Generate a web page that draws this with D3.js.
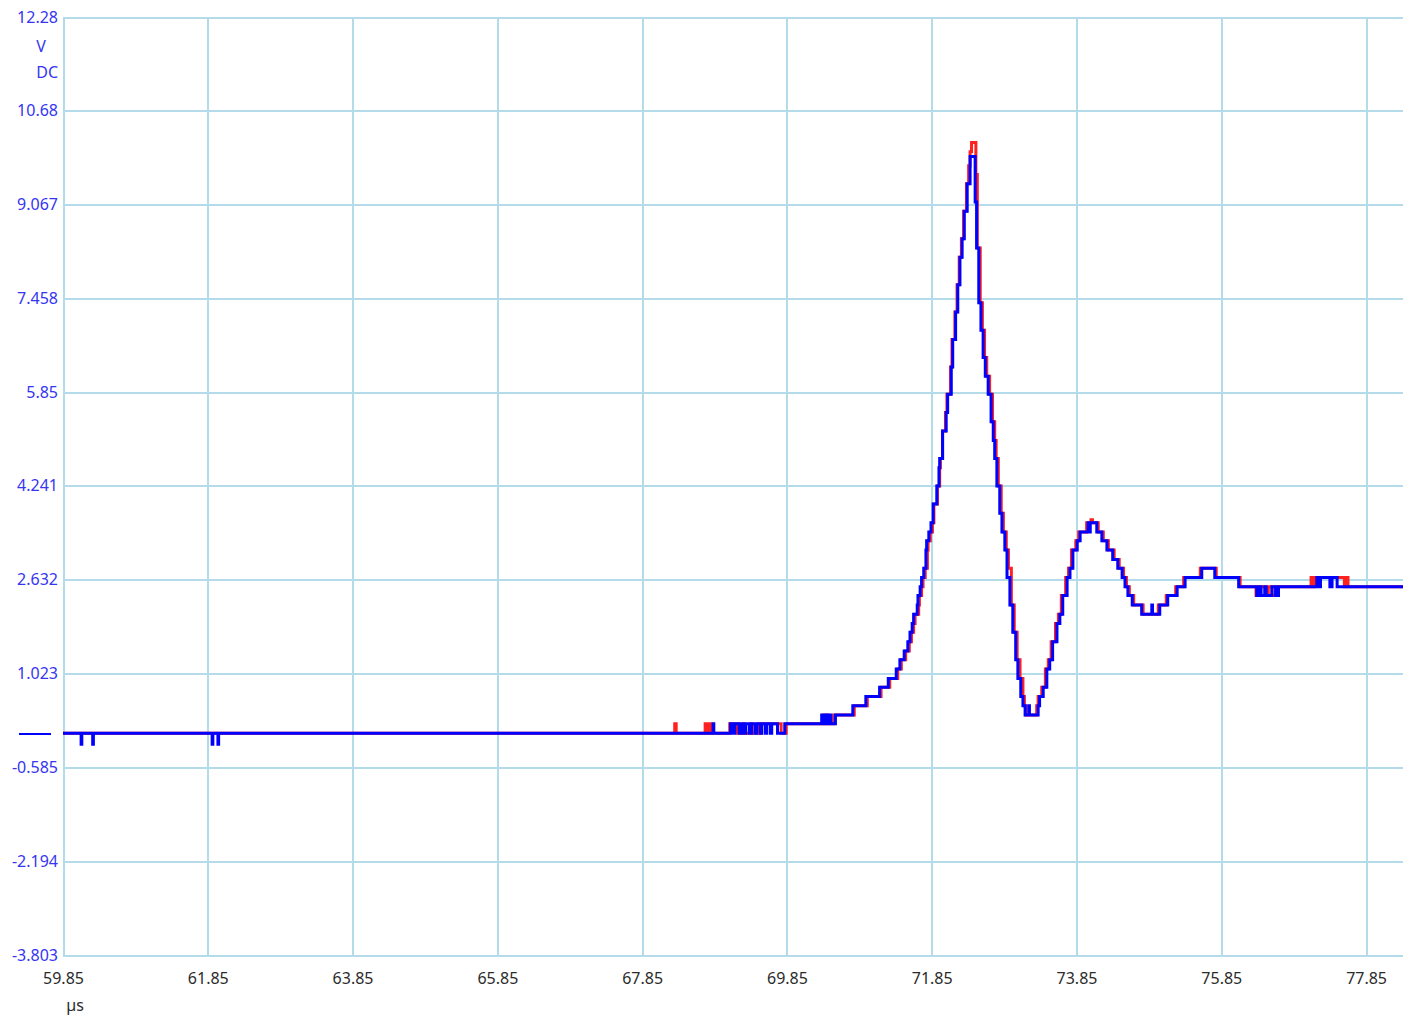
<!DOCTYPE html>
<html>
<head>
<meta charset="utf-8">
<script src="https://cdn.jsdelivr.net/npm/d3@7"></script>
<style>
  html, body { margin: 0; padding: 0; background: #ffffff; }
  svg { display: block; font-family: "Noto Sans", "DejaVu Sans", sans-serif; }
</style>
</head>
<body>
<svg id="chart" width="1415" height="1021"></svg>
<script>
// ---- data ----
const xTicks = [59.85, 61.85, 63.85, 65.85, 67.85, 69.85, 71.85, 73.85, 75.85, 77.85];
const xTickLabels = ["59.85", "61.85", "63.85", "65.85", "67.85", "69.85", "71.85", "73.85", "75.85", "77.85"];
const yTicks = [12.28, 10.68, 9.067, 7.458, 5.85, 4.241, 2.632, 1.023, -0.585, -2.194, -3.803];
const yTickLabels = ["12.28", "10.68", "9.067", "7.458", "5.85", "4.241", "2.632", "1.023", "-0.585", "-2.194", "-3.803"];
const xDomain = [59.85, 78.36];
const yDomain = [-3.803, 12.28];
const zeroLevel = 0;
const xUnit = "µs";
const yUnit = "V";
const yCoupling = "DC";

// channel samples [time µs, volts] (step changes)
const redSamples = [
  [59.85, 0],
  [68.30, 0.16], [68.32, 0],
  [68.72, 0.16], [68.76, 0], [68.79, 0.16], [68.80, 0],
  [69.06, 0.16], [69.16, 0], [69.17, 0.16], [69.19, 0], [69.25, 0.16], [69.26, 0],
  [69.35, 0.16], [69.37, 0], [69.45, 0.16], [69.46, 0],
  [69.50, 0.16], [69.77, 0], [69.84, 0.16],
  [70.36, 0.31], [70.37, 0.16], [70.41, 0.31], [70.42, 0.16], [70.50, 0.31],
  [70.78, 0.47], [70.96, 0.63], [71.15, 0.79], [71.27, 0.94], [71.38, 1.10], [71.43, 1.26],
  [71.49, 1.41], [71.54, 1.57], [71.57, 1.73], [71.60, 1.88], [71.62, 2.04], [71.67, 2.20],
  [71.68, 2.36], [71.71, 2.51], [71.73, 2.67], [71.76, 2.83], [71.79, 3.14], [71.80, 3.30],
  [71.83, 3.45], [71.86, 3.61], [71.88, 3.93], [71.93, 4.24], [71.96, 4.55], [71.97, 4.71],
  [72.00, 5.18], [72.04, 5.50], [72.06, 5.81], [72.11, 6.28], [72.13, 6.75], [72.17, 7.22],
  [72.20, 7.69], [72.23, 8.16], [72.26, 8.48], [72.29, 8.95], [72.33, 9.42], [72.36, 9.73],
  [72.38, 9.97], [72.40, 10.13],
  [72.46, 9.58], [72.48, 8.32], [72.52, 7.38], [72.55, 6.91], [72.58, 6.44], [72.61, 6.12],
  [72.65, 5.81], [72.69, 5.34], [72.72, 5.02], [72.74, 4.71], [72.77, 4.24], [72.81, 3.77],
  [72.84, 3.45], [72.88, 3.14], [72.91, 2.83], [72.95, 2.20], [72.99, 1.73], [73.03, 1.26],
  [73.07, 0.94], [73.11, 0.63], [73.13, 0.47], [73.15, 0.31],
  [73.30, 0.47], [73.32, 0.63], [73.37, 0.79], [73.42, 1.10], [73.46, 1.26], [73.50, 1.57],
  [73.56, 1.88], [73.60, 2.04], [73.64, 2.36], [73.70, 2.67], [73.74, 2.83], [73.78, 3.14],
  [73.84, 3.30], [73.88, 3.45], [73.99, 3.61], [74.05, 3.66], [74.07, 3.61],
  [74.15, 3.45], [74.22, 3.30], [74.29, 3.14], [74.37, 2.98], [74.44, 2.83], [74.50, 2.67],
  [74.54, 2.51], [74.58, 2.36], [74.64, 2.20], [74.77, 2.04],
  [74.98, 2.20], [75.09, 2.36], [75.22, 2.51], [75.33, 2.67], [75.56, 2.83],
  [75.78, 2.67], [76.11, 2.51],
  [76.33, 2.36], [76.36, 2.51], [76.48, 2.36], [76.50, 2.51], [76.55, 2.36], [76.60, 2.51],
  [77.09, 2.67], [77.11, 2.51], [77.14, 2.67], [77.55, 2.51], [77.58, 2.67], [77.60, 2.51],
  [78.36, 2.51]
];

const blueSamples = [
  [59.85, 0],
  [60.10, -0.19], [60.11, 0], [60.26, -0.19], [60.27, 0],
  [61.91, -0.19], [61.92, 0], [61.99, -0.19], [62.00, 0],
  [68.83, 0.16], [68.84, 0],
  [69.07, 0.16], [69.11, 0], [69.13, 0.16], [69.19, 0], [69.21, 0.16], [69.25, 0],
  [69.28, 0.16], [69.33, 0], [69.36, 0.16], [69.41, 0], [69.43, 0.16], [69.48, 0],
  [69.50, 0.16], [69.55, 0], [69.57, 0.16], [69.62, 0], [69.64, 0.16], [69.72, 0], [69.82, 0.16],
  [70.33, 0.31], [70.35, 0.16], [70.38, 0.31], [70.40, 0.16], [70.44, 0.31], [70.46, 0.16], [70.52, 0.31],
  [70.76, 0.47], [70.94, 0.63], [71.13, 0.79], [71.25, 0.94], [71.36, 1.10], [71.41, 1.26],
  [71.47, 1.41], [71.52, 1.57], [71.55, 1.73], [71.58, 1.88], [71.60, 2.04], [71.65, 2.20],
  [71.66, 2.36], [71.69, 2.51], [71.71, 2.67], [71.74, 2.83], [71.77, 3.14], [71.78, 3.30],
  [71.81, 3.45], [71.84, 3.61], [71.87, 3.93], [71.92, 4.24], [71.95, 4.55], [71.96, 4.71],
  [72.00, 5.18], [72.05, 5.50], [72.07, 5.81], [72.12, 6.28], [72.14, 6.75], [72.18, 7.22],
  [72.21, 7.69], [72.24, 8.16], [72.27, 8.48], [72.30, 8.95], [72.34, 9.42], [72.38, 9.89],
  [72.45, 9.11], [72.47, 8.32], [72.50, 7.38], [72.53, 6.91], [72.56, 6.44], [72.59, 6.12],
  [72.63, 5.81], [72.67, 5.34], [72.70, 5.02], [72.72, 4.71], [72.75, 4.24], [72.79, 3.77],
  [72.82, 3.45], [72.86, 3.14], [72.89, 2.67], [72.93, 2.20], [72.97, 1.73], [73.01, 1.26],
  [73.04, 0.94], [73.08, 0.63], [73.11, 0.47], [73.14, 0.31], [73.19, 0.47], [73.20, 0.31],
  [73.32, 0.47], [73.34, 0.63], [73.39, 0.79], [73.44, 1.10], [73.48, 1.26], [73.52, 1.57],
  [73.58, 1.88], [73.62, 2.04], [73.66, 2.36], [73.72, 2.67], [73.76, 2.83], [73.80, 3.14],
  [73.86, 3.30], [73.90, 3.45], [74.01, 3.61], [74.03, 3.45], [74.04, 3.61],
  [74.13, 3.45], [74.20, 3.30], [74.27, 3.14], [74.35, 2.98], [74.42, 2.83], [74.48, 2.67],
  [74.52, 2.51], [74.56, 2.36], [74.62, 2.20], [74.75, 2.04], [74.89, 2.20], [74.90, 2.04],
  [75.00, 2.20], [75.11, 2.36], [75.24, 2.51], [75.35, 2.67], [75.58, 2.83],
  [75.76, 2.67], [76.09, 2.51],
  [76.34, 2.36], [76.37, 2.51], [76.40, 2.36], [76.45, 2.51], [76.47, 2.36], [76.55, 2.51],
  [76.60, 2.36], [76.64, 2.51],
  [77.17, 2.67], [77.19, 2.51], [77.22, 2.67], [77.35, 2.51], [77.38, 2.67], [77.45, 2.51],
  [78.36, 2.51]
];

// ---- layout ----
const svg = d3.select("#chart");
const plotLeft = 63, plotRight = 1403, plotTop = 17, plotBottom = 955;

const x = d3.scaleLinear().domain(xDomain).range([plotLeft, plotRight]);
const y = d3.scaleLinear().domain(yDomain).range([plotBottom, plotTop]);

const gridColor = "#b3dbe9";
const yLabelColor = "#3535f2";
const xLabelColor = "#2b2b2b";
const fontSize = 16;

// horizontal grid + y labels
const yAxis = d3.axisLeft(y)
  .tickValues(yTicks)
  .tickFormat((d, i) => yTickLabels[i])
  .tickSize(-(plotRight - plotLeft))
  .tickPadding(5);
const gy = svg.append("g")
  .attr("transform", `translate(${plotLeft},0)`)
  .call(yAxis);
gy.select(".domain").remove();
gy.selectAll(".tick line")
  .attr("stroke", gridColor)
  .attr("stroke-width", 2)
  .attr("shape-rendering", "crispEdges");
gy.selectAll(".tick text")
  .attr("fill", yLabelColor)
  .attr("font-size", fontSize)
  .attr("font-family", "'Noto Sans', sans-serif");

// vertical grid + x labels
const xAxis = d3.axisBottom(x)
  .tickValues(xTicks)
  .tickFormat((d, i) => xTickLabels[i])
  .tickSize(-(plotBottom - plotTop))
  .tickPadding(18);
const gx = svg.append("g")
  .attr("transform", `translate(0,${plotBottom})`)
  .call(xAxis);
gx.select(".domain").remove();
gx.selectAll(".tick line")
  .attr("stroke", gridColor)
  .attr("stroke-width", 2)
  .attr("shape-rendering", "crispEdges");
gx.selectAll(".tick text")
  .attr("fill", xLabelColor)
  .attr("font-size", fontSize)
  .attr("font-family", "'Noto Sans', sans-serif");

// unit labels
svg.append("text").attr("x", 41).attr("y", 52)
  .attr("text-anchor", "middle").attr("fill", yLabelColor)
  .attr("font-size", fontSize).text(yUnit);
svg.append("text").attr("x", 58).attr("y", 78)
  .attr("text-anchor", "end").attr("fill", yLabelColor)
  .attr("font-size", fontSize).text(yCoupling);
svg.append("text").attr("x", 75).attr("y", 1011)
  .attr("text-anchor", "middle").attr("fill", xLabelColor)
  .attr("font-size", fontSize).text(xUnit);

// ground marker
svg.append("line")
  .attr("x1", 19).attr("x2", 51)
  .attr("y1", Math.round(y(zeroLevel)) + 1).attr("y2", Math.round(y(zeroLevel)) + 1)
  .attr("stroke", "#0000ff").attr("stroke-width", 2);

// clip
svg.append("clipPath").attr("id", "plotclip")
  .append("rect").attr("x", plotLeft).attr("y", plotTop)
  .attr("width", plotRight - plotLeft).attr("height", plotBottom - plotTop);

const line = d3.line()
  .x(d => x(d[0]))
  .y(d => y(d[1]))
  .curve(d3.curveStepAfter);

const traces = svg.append("g").attr("clip-path", "url(#plotclip)");
traces.append("path")
  .datum(redSamples)
  .attr("d", line)
  .attr("fill", "none")
  .attr("stroke", "#ff2020")
  .attr("stroke-width", 3);
traces.append("path")
  .datum(blueSamples)
  .attr("d", line)
  .attr("fill", "none")
  .attr("stroke", "#0000ff")
  .attr("stroke-width", 3);
</script>
</body>
</html>
